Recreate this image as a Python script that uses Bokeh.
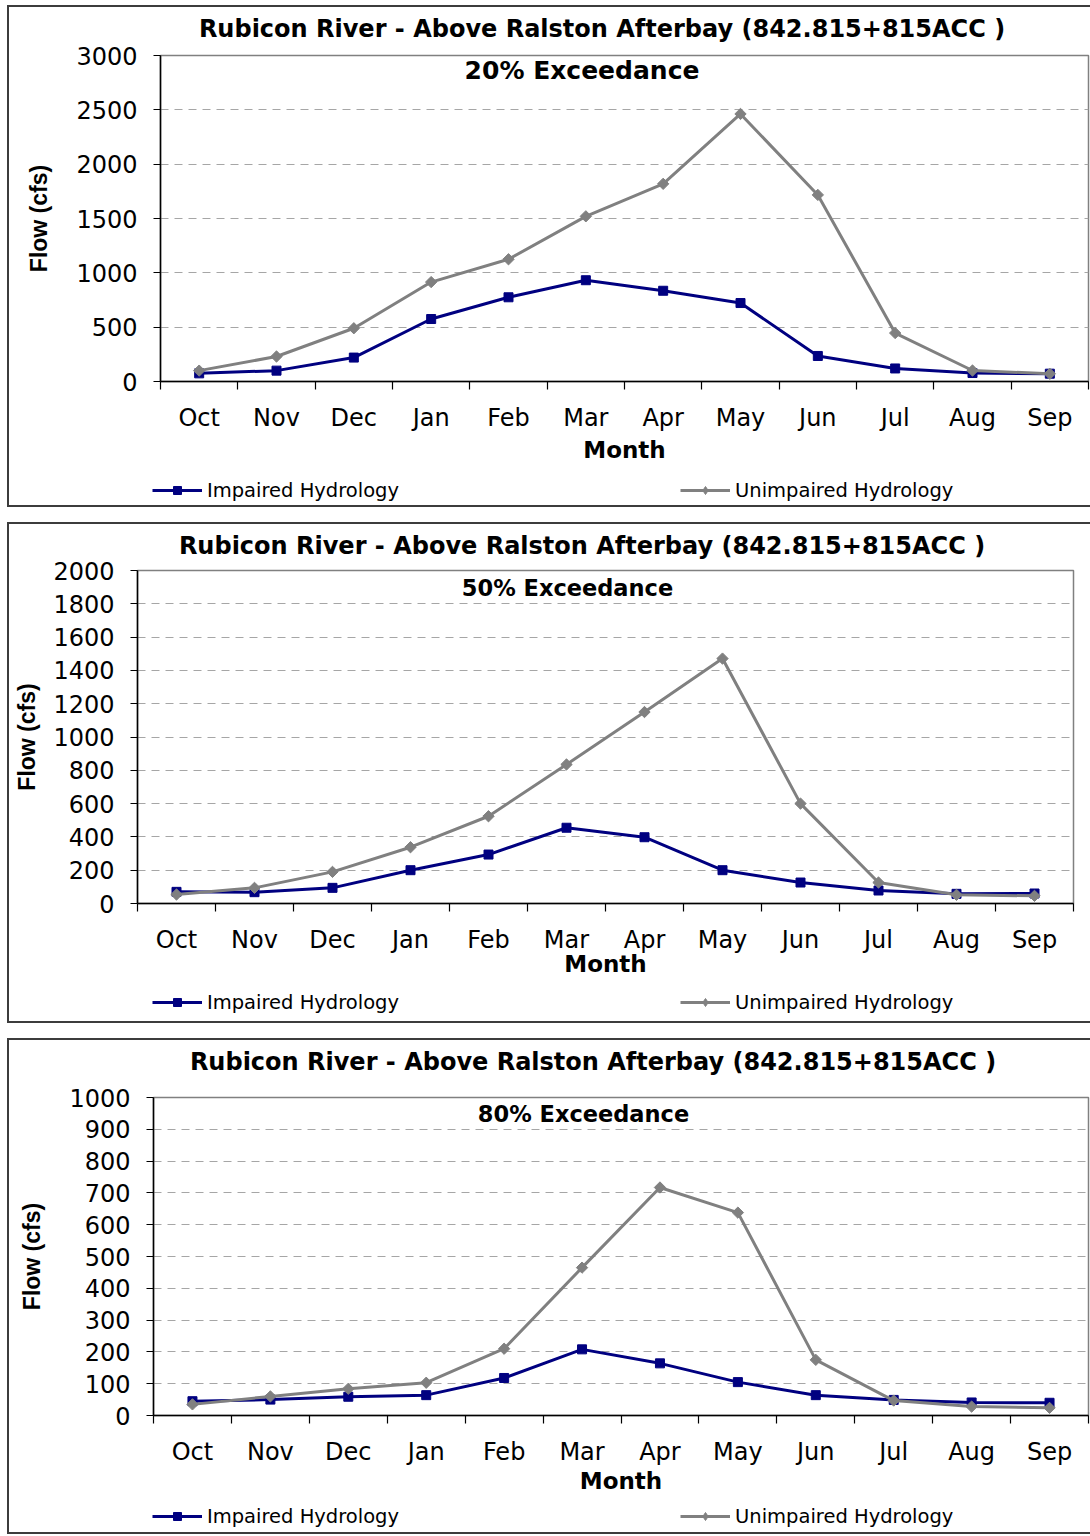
import numpy as np
from bokeh.plotting import figure
from bokeh.models import Range1d, FixedTicker, Legend, LegendItem, Label
from bokeh.embed import file_html
from bokeh.resources import INLINE

# ---------------- data ----------------
months = ["Oct", "Nov", "Dec", "Jan", "Feb", "Mar", "Apr", "May", "Jun", "Jul", "Aug", "Sep"]
chart_title = "Rubicon River - Above Ralston Afterbay (842.815+815ACC )"
subtitles = ["20% Exceedance", "50% Exceedance", "80% Exceedance"]
series_names = ["Impaired Hydrology", "Unimpaired Hydrology"]

impaired_20 = [75, 100, 220, 575, 775, 932, 835, 722, 235, 120, 78, 72]
unimpaired_20 = [100, 230, 490, 915, 1125, 1520, 1819, 2462, 1717, 446, 101, 71]

impaired_50 = [70, 68, 94, 200, 294, 455, 398, 200, 126, 78, 58, 60]
unimpaired_50 = [54, 94, 190, 338, 524, 835, 1150, 1471, 600, 126, 52, 46]

impaired_80 = [45, 50, 59, 64, 118, 208, 164, 105, 64, 49, 41, 40]
unimpaired_80 = [35, 60, 84, 103, 210, 465, 717, 638, 175, 47, 28, 24]

y_max = [3000, 2000, 1000]
y_step = [500, 200, 100]

# ---------------- layout constants (pixels) ----------------
layouts = [
    dict(mt=5, h=502, l=153, r=2, t=50, b=126, title_cx=601.5, title_mt=-494, sub_fx=0.4542,
         sub_dy=15, sub_fs="25px", ylab_so=21, xlab_so=2, leg_mt=432),
    dict(mt=17, h=501, l=130, r=17, t=48, b=120, title_cx=581.5, title_mt=-493, sub_fx=0.4594,
         sub_dy=17, sub_fs="22.5px", ylab_so=10, xlab_so=-6, leg_mt=427),
    dict(mt=21, h=496, l=146, r=2, t=59, b=119, title_cx=592.5, title_mt=-488, sub_fx=0.4599,
         sub_dy=16, sub_fs="22.5px", ylab_so=21, xlab_so=-1, leg_mt=425),
]
STRIP_H = 30
PANEL_LEFT = 7
PANEL_W = 1083

FONT = "DejaVu Sans"
NAVY = "#000080"
GREY = "#808080"
BORDER = "#3c3c3c"


def strip(mt):
    s = figure(width=PANEL_W, height=STRIP_H, output_backend="svg", toolbar_location=None,
               title=None, x_axis_location=None, y_axis_location=None,
               x_range=Range1d(0, PANEL_W), y_range=Range1d(0, STRIP_H),
               min_border=0, border_fill_color=None, background_fill_color=None,
               outline_line_color=None,
               styles={"margin-left": f"{PANEL_LEFT}px", "margin-top": f"{mt}px"})
    s.grid.visible = False
    return s


def make_panel(sub, imp, unimp, ymax, ystep, lay):
    n = len(months)
    xs = [i + 0.5 for i in range(n)]
    p = figure(width=PANEL_W, height=lay["h"], output_backend="svg", toolbar_location=None,
               title=None, x_range=Range1d(0, n), y_range=Range1d(0, ymax),
               min_border_left=lay["l"], min_border_right=lay["r"],
               min_border_top=lay["t"], min_border_bottom=lay["b"],
               background_fill_color="white", border_fill_color=None,
               styles={"margin-left": f"{PANEL_LEFT}px", "margin-top": f"{lay['mt']}px",
                       "box-shadow": f"inset 2px 2px 0 {BORDER}, inset 0 -2px 0 {BORDER}"})
    p.outline_line_color = GREY
    p.outline_line_width = 1.5

    # x axis: labels at category centres, ticks at category boundaries
    xa = p.xaxis[0]
    xa.ticker = FixedTicker(ticks=xs, minor_ticks=list(range(n + 1)))
    xa.major_label_overrides = {x: m for x, m in zip(xs, months)}
    xa.major_tick_line_color = None
    xa.major_tick_out = 0
    xa.major_tick_in = 0
    xa.minor_tick_line_color = "black"
    xa.minor_tick_line_width = 1.2
    xa.minor_tick_out = 8
    xa.minor_tick_in = 0
    xa.axis_line_color = "black"
    xa.axis_line_width = 1.5
    xa.major_label_text_font = FONT
    xa.major_label_text_font_size = "24px"
    xa.major_label_text_color = "black"
    xa.major_label_standoff = 14
    xa.axis_label = "Month"
    xa.axis_label_text_font = FONT
    xa.axis_label_text_font_size = "23px"
    xa.axis_label_text_font_style = "bold"
    xa.axis_label_text_color = "black"
    xa.axis_label_standoff = lay["xlab_so"]

    ya = p.yaxis[0]
    ya.ticker = FixedTicker(ticks=list(range(0, ymax + 1, ystep)), minor_ticks=[])
    ya.major_tick_out = 7
    ya.major_tick_in = 0
    ya.major_tick_line_color = "black"
    ya.major_tick_line_width = 1.2
    ya.minor_tick_line_color = None
    ya.axis_line_color = "black"
    ya.axis_line_width = 1.5
    ya.major_label_text_font = FONT
    ya.major_label_text_font_size = "24px"
    ya.major_label_text_color = "black"
    ya.major_label_standoff = 16
    ya.axis_label = "Flow (cfs)"
    ya.axis_label_text_font = "Liberation Sans"
    ya.axis_label_text_font_size = "23px"
    ya.axis_label_text_font_style = "bold"
    ya.axis_label_text_color = "black"
    ya.axis_label_standoff = lay["ylab_so"]

    p.xgrid.visible = False
    p.ygrid.grid_line_color = "#a6a6a6"
    p.ygrid.grid_line_dash = "8 6"
    p.ygrid.grid_line_width = 1

    p.line(xs, imp, line_color=NAVY, line_width=3)
    p.scatter(xs, imp, marker="square", size=9, fill_color=NAVY, line_color=NAVY)
    p.line(xs, unimp, line_color=GREY, line_width=3)
    p.scatter(xs, unimp, marker="square", angle=np.pi / 4, size=8,
              fill_color=GREY, line_color=GREY)

    frame_h = lay["h"] - lay["t"] - lay["b"]
    p.add_layout(Label(x=lay["sub_fx"] * n, y=ymax * (1 - lay["sub_dy"] / frame_h), text=sub,
                       text_align="center", text_baseline="middle", text_font=FONT,
                       text_font_size=lay["sub_fs"], text_font_style="bold", text_color="black"))

    # title strip laid over the top of the panel
    tt = strip(lay["title_mt"])
    tt.add_layout(Label(x=lay["title_cx"] - PANEL_LEFT, y=STRIP_H / 2, text=chart_title,
                        text_align="center", text_baseline="middle", text_font=FONT,
                        text_font_size="24px", text_font_style="bold", text_color="black"))

    # legend strip laid over the bottom of the panel
    lg = figure(width=PANEL_W, height=STRIP_H, output_backend="svg", toolbar_location=None,
                title=None, x_axis_location=None, y_axis_location=None,
                x_range=Range1d(0, n), y_range=Range1d(-2 * ymax, -ymax),
                min_border=0, border_fill_color=None, background_fill_color=None,
                outline_line_color=None,
                styles={"margin-left": f"{PANEL_LEFT}px", "margin-top": f"{lay['leg_mt']}px"})
    lg.grid.visible = False
    a1 = lg.line(xs, imp, line_color=NAVY, line_width=3)
    b1 = lg.scatter(xs, imp, marker="square", size=9, fill_color=NAVY, line_color=NAVY)
    a2 = lg.line(xs, unimp, line_color=GREY, line_width=3)
    b2 = lg.scatter(xs, unimp, marker="diamond", size=12, fill_color=GREY, line_color=GREY)
    legend = Legend(items=[LegendItem(label=series_names[0], renderers=[a1, b1]),
                           LegendItem(label=series_names[1], renderers=[a2, b2])],
                    orientation="horizontal", location=(145, 3.5),
                    padding=0, margin=0, spacing=281, glyph_width=50, glyph_height=20,
                    label_standoff=5, label_text_font=FONT, label_text_font_size="19.5px",
                    label_text_color="black", border_line_color=None, background_fill_alpha=0)
    lg.add_layout(legend)
    return [p, tt, lg]


roots = []
data = [(impaired_20, unimpaired_20), (impaired_50, unimpaired_50), (impaired_80, unimpaired_80)]
for i in range(3):
    roots.extend(make_panel(subtitles[i], data[i][0], data[i][1], y_max[i], y_step[i], layouts[i]))

open("out.html", "w").write(file_html(roots, INLINE))
